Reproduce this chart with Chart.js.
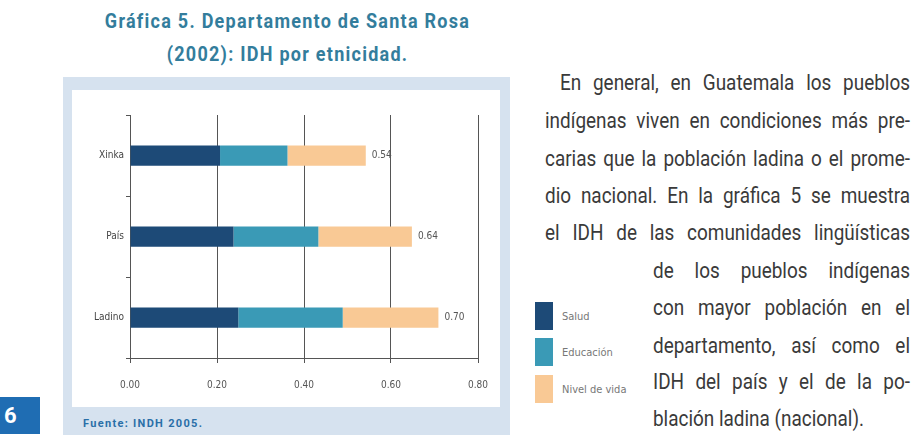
<!DOCTYPE html>
<html>
<head>
<meta charset="utf-8">
<script src="https://cdn.jsdelivr.net/npm/chart.js@4"></script>
<style>
  body { margin: 0; width: 921px; height: 438px; background: #fff; position: relative; overflow: hidden; font-family: Roboto, sans-serif; }
  .abs { position: absolute; }
  #title { left: 60px; width: 455px; top: 5px; text-align: center; color: #337d9c; font-weight: bold; font-size: 20px; line-height: 33px; }
  #title div { transform: scaleX(0.9); letter-spacing: 1.4px; }
  #box { left: 63px; top: 77px; width: 447px; height: 358px; background: #d6e2ef; }
  #inner { left: 72px; top: 90px; width: 428px; height: 317px; background: #fff; }
  #chart { left: 72px; top: 90px; }
  #fuente { left: 83px; top: 417px; color: #2a6fa8; font-weight: bold; font-size: 11px; letter-spacing: 1.3px; }
  #page { left: 0; top: 397px; width: 40px; height: 37px; background: #1f6db3; color: #fff; font-weight: bold; font-size: 22px; line-height: 37px; padding-left: 4px; box-sizing: border-box; }
  .line { position: absolute; color: #3a3a3a; font-size: 22px; line-height: 24px; white-space: nowrap; transform-origin: left top; transform: scaleX(0.86); }
  .just { text-align: justify; text-align-last: justify; }
  .leg { position: absolute; left: 535px; width: 18px; height: 28px; }
  .legtxt { position: absolute; left: 562px; color: #777; font-size: 11px; font-family: "DejaVu Sans Condensed", "DejaVu Sans", sans-serif; }
</style>
</head>
<body>
<div id="title" class="abs"><div>Gráfica 5. Departamento de Santa Rosa</div><div>(2002): IDH por etnicidad.</div></div>
<div id="box" class="abs"></div>
<div id="inner" class="abs"></div>
<canvas id="chart" class="abs" width="428" height="317"></canvas>
<div id="fuente" class="abs">Fuente: INDH 2005.</div>
<div id="page" class="abs">6</div>
<div id="text"></div>
<div id="legend"></div>

<script>
// Chart data
const categories = ["Xinka", "País", "Ladino"];
const seriesNames = ["Salud", "Educación", "Nivel de vida"];
const salud = [0.207, 0.238, 0.249];
const educacion = [0.155, 0.195, 0.240];
const nivelVida = [0.180, 0.215, 0.220];
const totalLabels = ["0.54", "0.64", "0.70"];
const xTicks = [0, 0.2, 0.4, 0.6, 0.8];
const colors = ["#1d4a77", "#3a9ab6", "#f9c995"];

// Paragraph lines (right column)
const scaleX = 0.86;
const lines = [
  { t: "En general, en Guatemala los pueblos", x: 560, w: 350, y: 71 },
  { t: "indígenas viven en condiciones más pre-", x: 545, w: 365, y: 109 },
  { t: "carias que la población ladina o el prome-", x: 545, w: 365, y: 147 },
  { t: "dio nacional. En la gráfica 5 se muestra", x: 545, w: 365, y: 184 },
  { t: "el IDH de las comunidades lingüísticas", x: 545, w: 365, y: 221 },
  { t: "de los pueblos indígenas", x: 653, w: 257, y: 259 },
  { t: "con mayor población en el", x: 653, w: 257, y: 296 },
  { t: "departamento, así como el", x: 653, w: 257, y: 334 },
  { t: "IDH del país y el de la po-", x: 653, w: 257, y: 370 },
  { t: "blación ladina (nacional).", x: 653, w: 0, y: 407 }
];
let txt = document.getElementById("text");
lines.forEach(l => {
  let d = document.createElement("div");
  d.className = "line" + (l.w ? " just" : "");
  d.style.left = l.x + "px";
  d.style.top = l.y + "px";
  if (l.w) d.style.width = (l.w / scaleX) + "px";
  d.textContent = l.t;
  txt.appendChild(d);
});

// Legend
let leg = document.getElementById("legend");
seriesNames.forEach((name, i) => {
  let top = [302, 338, 375][i];
  leg.innerHTML += `<div class="leg" style="top:${top}px;background:${colors[i]}"></div>` +
    `<div class="legtxt" style="top:${top + 8}px">${name}</div>`;
});

// End-of-bar totals
const totalsPlugin = {
  id: "totals",
  afterDatasetsDraw(chart) {
    let ctx = chart.ctx;
    let meta = chart.getDatasetMeta(chart.data.datasets.length - 1);
    ctx.save();
    ctx.font = "10px 'DejaVu Sans Condensed', sans-serif";
    ctx.fillStyle = "#555";
    ctx.textBaseline = "middle";
    meta.data.forEach((bar, i) => {
      ctx.fillText(totalLabels[i], bar.x + 6, bar.y);
    });
    ctx.restore();
  }
};

const tickFont = { family: "'DejaVu Sans Condensed', sans-serif", size: 10 };

new Chart(document.getElementById("chart"), {
  type: "bar",
  data: {
    labels: categories,
    datasets: [salud, educacion, nivelVida].map((d, i) => ({
      label: seriesNames[i],
      data: d,
      backgroundColor: colors[i],
      barPercentage: 0.25,
      categoryPercentage: 1
    }))
  },
  options: {
    indexAxis: "y",
    responsive: false,
    animation: false,
    devicePixelRatio: 1,
    layout: { padding: { top: 25, right: 22, left: 0, bottom: 0 } },
    plugins: { legend: { display: false }, tooltip: { enabled: false } },
    scales: {
      x: {
        stacked: true,
        min: 0,
        max: 0.8,
        afterBuildTicks: s => { s.ticks = xTicks.map(v => ({ value: v })); },
        afterFit: s => { s.height = 49; s.paddingRight = 0; s.paddingLeft = 0; },
        ticks: { callback: v => v.toFixed(2), color: "#555", font: tickFont, padding: 16 },
        grid: { color: "#555", lineWidth: 1, tickLength: 5 },
        border: { color: "#555" }
      },
      y: {
        stacked: true,
        afterFit: s => { s.width = 58; },
        ticks: { color: "#444", font: tickFont, padding: 2 },
        grid: { drawOnChartArea: false, color: "#555", tickLength: 4 },
        border: { color: "#555" }
      }
    }
  },
  plugins: [totalsPlugin]
});
</script>
</body>
</html>
